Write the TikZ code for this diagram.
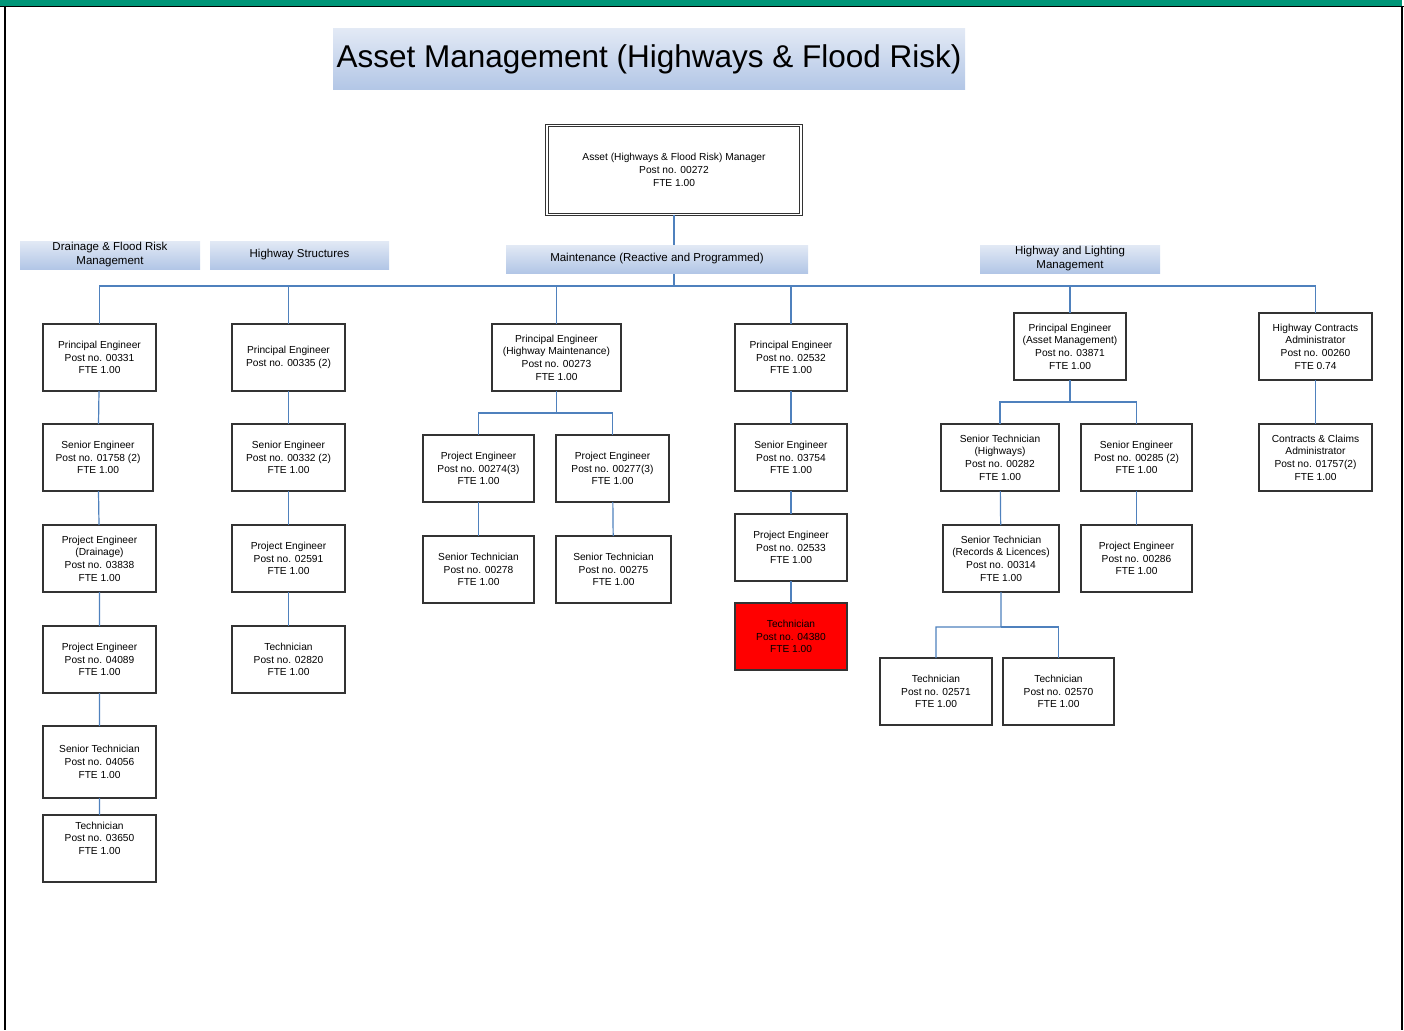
\documentclass[tikz,border=0pt]{standalone}
\usepackage{fontspec}
\setmainfont{Liberation Sans}
\usetikzlibrary{positioning}

\definecolor{linkblue}{RGB}{79,129,189}
\definecolor{bandtop}{RGB}{226,233,245}
\definecolor{bandbot}{RGB}{178,198,230}
\definecolor{framegreen}{RGB}{0,150,120}

\begin{document}
\begin{tikzpicture}[x=1pt, y=-1pt, node distance=33pt,
  post/.style={draw=black!80, line width=1.4pt, fill=white, align=center,
    minimum width=113pt, minimum height=67pt, inner sep=2pt, outer sep=0pt,
    font=\fontsize{10.2}{12.7}\selectfont},
  band/.style={top color=bandtop, bottom color=bandbot, align=center,
    minimum height=28pt, inner sep=1pt, font=\fontsize{11.5}{14}\selectfont},
  link/.style={draw=linkblue, line width=1.2pt}]
\useasboundingbox (0,0) rectangle (1404,1030);

% page frame
\fill[framegreen] (0,0) rectangle (1402,6);
\draw[line width=1.5pt] (0,6.5) -- (1404,6.5);
\draw[line width=2pt] (5,6) -- (5,1030);
\draw[line width=2pt] (1402,6) -- (1402,1030);

\node [band, minimum width=632pt, minimum height=61pt, inner sep=0pt,
  font=\fontsize{31.5}{36}\selectfont] (title) at (649,59.5) {Asset Management (Highways \& Flood Risk)};

\node [post, double, line width=1pt, double distance=1.5pt, minimum width=254pt, minimum height=89pt] (mgr) at (674,170)
  {Asset (Highways \& Flood Risk) Manager\\Post no. 00272\\FTE 1.00};

% drainage & flood risk
\node [post] (pe1) at (99.5,357.5) {Principal Engineer\\Post no. 00331\\FTE 1.00};
\node [post, below=of pe1, minimum width=110pt, xshift=-1.5pt] (se1) {Senior Engineer\\Post no. 01758 (2)\\FTE 1.00};
\node [post, below=34pt of se1, xshift=1.5pt] (pj1) {Project Engineer\\(Drainage)\\Post no. 03838\\FTE 1.00};
\node [post, below=34pt of pj1] (pj12) {Project Engineer\\Post no. 04089\\FTE 1.00};
\node [post, below=of pj12, minimum height=72pt] (st1) {Senior Technician\\Post no. 04056\\FTE 1.00};
\node [post, below=17pt of st1] (tc1) {Technician\\Post no. 03650\\FTE 1.00\\[8pt]};

% highway structures
\node [post] (pe2) at (288.5,357.5) {Principal Engineer\\Post no. 00335 (2)};
\node [post, below=of pe2] (se2) {Senior Engineer\\Post no. 00332 (2)\\FTE 1.00};
\node [post, below=34pt of se2] (pj2) {Project Engineer\\Post no. 02591\\FTE 1.00};
\node [post, below=34pt of pj2] (tc2) {Technician\\Post no. 02820\\FTE 1.00};

% maintenance
\node [post, minimum width=129pt] (pe3) at (556.5,357.5) {Principal Engineer\\(Highway Maintenance)\\Post no. 00273\\FTE 1.00};
\node [post, minimum width=111pt] (pj31) at (478.5,468.5) {Project Engineer\\Post no. 00274(3)\\FTE 1.00};
\node [post, right=22pt of pj31] (pj32) {Project Engineer\\Post no. 00277(3)\\FTE 1.00};
\node [post, below=34pt of pj31, minimum width=111pt] (st31) {Senior Technician\\Post no. 00278\\FTE 1.00};
\node [post, below=34pt of pj32, minimum width=115pt, xshift=1pt] (st32) {Senior Technician\\Post no. 00275\\FTE 1.00};

\node [post, minimum width=112pt] (pe4) at (791,357.5) {Principal Engineer\\Post no. 02532\\FTE 1.00};
\node [post, below=of pe4, minimum width=112pt] (se4) {Senior Engineer\\Post no. 03754\\FTE 1.00};
\node [post, below=23pt of se4, minimum width=112pt] (pj4) {Project Engineer\\Post no. 02533\\FTE 1.00};
\node [post, below=22pt of pj4, minimum width=112pt, fill=red] (tc4) {Technician\\Post no. 04380\\FTE 1.00};

% highway and lighting
\node [post, minimum width=112pt] (pe5) at (1070,346.5) {Principal Engineer\\(Asset Management)\\Post no. 03871\\FTE 1.00};
\node [post, minimum width=118pt] (st51) at (1000,457.5) {Senior Technician\\(Highways)\\Post no. 00282\\FTE 1.00};
\node [post, right=22pt of st51, minimum width=111pt] (se5) {Senior Engineer\\Post no. 00285 (2)\\FTE 1.00};
\node [post, below=34pt of st51, minimum width=116pt, xshift=1pt] (st52) {Senior Technician\\(Records \& Licences)\\Post no. 00314\\FTE 1.00};
\node [post, below=34pt of se5, minimum width=111pt] (pj5) {Project Engineer\\Post no. 00286\\FTE 1.00};
\node [post, minimum width=112pt] (tc51) at (936,691.5) {Technician\\Post no. 02571\\FTE 1.00};
\node [post, right=11pt of tc51, minimum width=111pt] (tc52) {Technician\\Post no. 02570\\FTE 1.00};

\node [post] (ca1) at (1315.5,346.5) {Highway Contracts\\Administrator\\Post no. 00260\\FTE 0.74};
\node [post, below=44pt of ca1] (ca2) {Contracts \& Claims\\Administrator\\Post no. 01757(2)\\FTE 1.00};

% reporting lines
\coordinate (bus) at (674,286);
\coordinate (br3) at (556.5,413);
\coordinate (br5) at (1070,402);
\coordinate (br52) at (1001,627);
\draw[link] (mgr) -- (bus);
\foreach \n in {pe1,pe2,pe3,pe4,pe5,ca1}
  \draw[link] (bus) -| (\n);
\draw[link] (pe1) -- (se1) -- (pj1) -- (pj12) -- (st1) -- (tc1);
\draw[link] (pe2) -- (se2) -- (pj2) -- (tc2);
\draw[link] (pe3) -- (br3) -| (pj31);
\draw[link] (br3) -| (pj32);
\draw[link] (pj31) -- (st31);
\draw[link] (pj32) -- (st32);
\draw[link] (pe4) -- (se4) -- (pj4) -- (tc4);
\draw[link] (pe5) -- (br5) -| (st51);
\draw[link] (br5) -| (se5);
\draw[link] (st51) -- (st52) -- (br52) -| (tc51);
\draw[link] (br52) -| (tc52);
\draw[link] (se5) -- (pj5);
\draw[link] (ca1) -- (ca2);

% section bands, laid over the trunk line
\node [band, minimum width=180pt] (hdrain) at (110,255) {Drainage \& Flood Risk\\Management};
\node [band, minimum width=179pt] (hstruct) at (299.5,255) {Highway Structures};
\node [band, minimum width=302pt] (hmaint) at (657,259) {Maintenance (Reactive and Programmed)};
\node [band, minimum width=180pt] (hlight) at (1070,259) {Highway and Lighting\\Management};
\end{tikzpicture}
\end{document}
